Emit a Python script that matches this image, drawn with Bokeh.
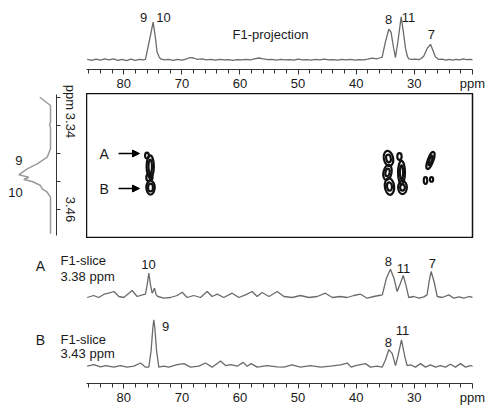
from bokeh.plotting import figure
from bokeh.layouts import column, row
from bokeh.models import Range1d, FixedTicker, Arrow, NormalHead
from bokeh.core.properties import value
from bokeh.embed import file_html
from bokeh.resources import INLINE

FONT = "Liberation Sans"

# ---------------- data ----------------
# F1 projection (13C ppm, intensity)
top_ppm = [86.3, 85.5, 84.8, 84.0, 83.3, 82.5, 81.8, 81.0, 80.3, 79.5, 78.8, 78.0, 77.3, 76.6, 76.27,
           75.6, 74.95, 74.6, 74.26, 73.9, 73.68, 73.0, 72.3, 71.5, 70.8, 70.0, 69.3, 68.6, 68.0, 67.3,
           66.5, 65.8, 65.0, 64.2, 63.5, 62.7, 62.0, 61.2, 60.5, 59.7, 59.0, 58.2, 57.5, 56.8, 56.0,
           55.2, 54.5, 53.7, 53.0, 52.2, 51.5, 50.7, 50.0, 49.2, 48.5, 47.7, 47.0, 46.2, 45.5, 44.7,
           44.0, 43.2, 42.5, 41.7, 41.0, 40.2, 39.5, 38.7, 38.0, 37.2, 36.5, 36.0, 35.53, 35.0, 34.38,
           34.0, 33.6, 33.24, 32.8, 32.26, 31.9, 31.51, 31.2, 30.94, 30.4, 29.8, 29.2, 28.8, 28.36, 27.79,
           27.5, 27.21, 26.8, 26.35, 25.78, 25.2, 24.6, 24.0, 23.4, 22.8, 22.2, 21.6, 21.0, 20.4, 19.9]
top_int = [0.5, -0.5, 0.8, -0.3, 1.0, 0.0, 1.2, -0.5, 0.6, -0.8, 0.8, -0.5, 0.5, 0.0, 0.5,
           20, 39.5, 25, 8, 3, 1.0, 0.0, 0.5, -0.5, 0.6, -0.3, 0.8, 2.5, 2.0, 0.5,
           1.0, 0.0, 0.5, -0.3, 0.6, 0.0, 0.4, -0.4, 0.3, 0.0, 0.6, 0.0, 1.0, 2.0, 1.0,
           0.2, 0.6, -0.2, 0.5, 0.0, 0.4, -0.3, 0.8, 0.0, 0.4, -0.2, 0.5, 0.0, 0.8, 0.0,
           0.4, -0.3, 0.6, 0.0, 0.5, -0.2, 0.4, 0.0, 0.8, 1.8, 1.0, 2.0, 3.0, 18, 32,
           29, 14, 2.5, 20, 45, 30, 12, 4, 1.0, 0.5, 0.8, 0.3, 1.5, 4, 12,
           14, 16.3, 10, 3, 0.5, 0.8, -0.3, 0.6, -0.2, 0.5, 0.0, 1.0, 0.2, 0.6, 0.3]

# F1 slice A (3.38 ppm)
sa_ppm = [86.3, 85.2, 84.3, 83.4, 82.6, 81.7, 80.85, 80.0, 78.55, 77.7, 76.8, 76.27, 75.98, 75.69, 75.4,
          75.12, 74.72, 74.43, 74.14, 73.1, 71.96, 70.8, 69.95, 69.1, 67.95, 66.8, 65.65, 64.8, 63.9, 62.8,
          61.35, 60.2, 59.05, 57.9, 57.05, 56.2, 55.0, 53.6, 52.45, 51.0, 49.6, 48.15, 46.7, 45.3, 44.1,
          42.7, 41.55, 40.4, 39.25, 38.1, 36.95, 36.1, 35.5, 34.8, 34.1, 33.5, 32.95, 32.5, 31.9, 31.45,
          30.95, 30.1, 29.2, 28.35, 27.8, 27.45, 27.1, 26.6, 26.05, 25.2, 24.05, 23.2, 22.3, 21.45, 20.6, 19.75]
sa_int = [0, 2, 0, 3.3, 4.3, 6, 1, 0, 7, 1, 2.6, 3.3, 12.6, 24.3, 12.6,
          4.3, 9.3, 2.6, 1, -0.7, 0, 2, 5.3, 0, 2, 0, 6, 1, 3.3, 0,
          4.3, 0, 2.6, 6, 1, 5, 1, 6, 1, 0, 2, 0, 1, 4.3, 0,
          1, 0, 2, 3.3, -0.7, 1, 2, 2.6, 19.3, 28.3, 19.3, 6, 12.6, 22, 12.6,
          0, 1, -0.7, 0.6, 2.6, 16, 26, 16, 1, 0, 2.6, -0.7, 0.6, -0.7, 1, 0]

# F1 slice B (3.43 ppm)
sb_ppm = [86.3, 85.16, 84.01, 83.15, 81.71, 80.57, 79.42, 78.27, 77.12, 76.26, 75.69, 75.29, 75.0, 74.83, 74.66,
          74.37, 73.97, 73.11, 72.25, 70.81, 69.66, 68.52, 67.08, 65.94, 64.79, 63.35, 62.49, 61.63, 60.48, 59.45,
          58.76, 58.08, 57.04, 55.32, 53.6, 52.45, 51.02, 49.58, 47.86, 46.14, 44.42, 42.7, 41.55, 40.86, 40.12,
          39.26, 38.4, 37.54, 36.39, 35.53, 34.95, 34.38, 33.81, 33.23, 32.83, 32.2, 31.63, 31.23, 30.65, 29.79,
          28.93, 28.07, 27.21, 26.35, 25.49, 24.63, 23.77, 22.91, 22.05, 21.18, 20.32, 19.75]
sb_int = [1, 2.7, 0.3, 1.7, 0, 1.7, 0, 1, 4.3, 0, 0, 17.7, 41, 49.3, 41,
          17.7, 0, 1, 0, 2.7, 3.7, 0, 1, 4.3, 0, 6.3, 1.7, 2.7, 1, 5,
          1, 3.7, 0, 1.7, 0.3, 0, 2.3, 0, 1.7, 0, 1, 2.3, 4.3, 0, 1.7,
          2.7, 3.7, 0, 1, 0, 7.7, 18.3, 14.3, 1.7, 11, 28.3, 11, 1.7, 2.3, 0,
          3.7, 0, 2.3, 0, 1.7, 0, 3, 0, 3.7, 0, 1.7, 0.3]

# F2 (1H) projection on the left
lp_h = [3.2996, 3.3114, 3.3353, 3.339, 3.3424, 3.3733, 3.3853, 3.3947, 3.4019, 3.4104,
        3.4139, 3.4171, 3.42, 3.4257, 3.4304, 3.4353, 3.4424, 3.4947]
lp_int = [10.7, 0, 0, 1, 0, 0, 3.3, 13.3, 23.3, 31.7, 21.7, 26.7, 18.3, 10, 8.3, 3.3, 0, 0]

# 2D cross-peak contours (13C ppm, 1H ppm, widths, tilt)
cp_c = [76.01, 75.45, 75.40, 75.75, 75.45, 75.40, 75.30,
        34.44, 34.61, 34.27, 34.44, 34.61, 34.27,
        32.55, 32.2, 32.03, 32.2, 32.03,
        27.21, 27.21, 28.07, 27.03]
cp_h = [3.3829, 3.3986, 3.4286, 3.4143, 3.3986, 3.4286, 3.4140,
        3.3871, 3.4071, 3.4271, 3.3871, 3.4071, 3.4271,
        3.3843, 3.4071, 3.4286, 3.4071, 3.4286,
        3.39, 3.39, 3.4186, 3.4171]
cp_w = [0.65, 1.25, 1.45, 0.75, 0.6, 0.85, 0.5,
        1.6, 1.4, 1.6, 0.8, 0.7, 0.85,
        0.75, 1.2, 1.5, 0.55, 0.8,
        0.95, 0.45, 0.6, 0.55]
cp_hh = [0.0085, 0.032, 0.02, 0.01, 0.02, 0.011, 0.008,
         0.022, 0.022, 0.024, 0.011, 0.011, 0.012,
         0.0095, 0.033, 0.019, 0.02, 0.009,
         0.026, 0.014, 0.0095, 0.0065]
cp_angle = [0, 0, 0, 0, 0, 0, 0,
            0.2, -0.2, 0.1, 0.2, -0.2, 0.1,
            0, 0, 0, 0, 0,
            -0.35, -0.35, 0, 0]

slice_names = ["A", "B"]
slice_h = [3.38, 3.43]

top_lab = ["9", "10", "8", "11", "7"]
top_lab_c = [76.61, 73.17, 34.44, 31.0, 27.04]
top_lab_i = [44, 44, 42, 44, 27]
sa_lab = ["10", "8", "11", "7"]
sa_lab_c = [75.75, 34.44, 31.86, 26.87]
sa_lab_i = [33, 36, 29, 34]
sb_lab = ["9", "8", "11"]
sb_lab_c = [72.82, 34.44, 32.03]
sb_lab_i = [42, 26, 38]
lp_lab = ["9", "10"]
lp_lab_h = [3.39, 3.4353]
lp_lab_i = [31.7, 35]

major = [20, 30, 40, 50, 60, 70, 80]
minor = list(range(22, 88, 2))

TRACE = "#6b6b6b"
TXT = "#1a1a1a"
X_FULL = (101.22, 19.98)    # spectra spanning the full width
X_RIGHT = (86.42, 19.98)    # panels to the right of the 1H strip


def base(width, height, xr, yr, **kw):
    p = figure(width=width, height=height, x_range=Range1d(*xr), y_range=Range1d(*yr),
               output_backend="svg", toolbar_location=None, min_border_left=0, min_border_top=0,
               min_border_bottom=0, min_border_right=0, **kw)
    p.grid.visible = False
    p.outline_line_color = None
    p.background_fill_color = "white"
    p.border_fill_color = "white"
    return p


def style_ppm_axis(p):
    ax = p.xaxis[0]
    ax.ticker = FixedTicker(ticks=major, minor_ticks=minor)
    ax.bounds = (19.98, 86.4)
    ax.major_label_overrides = {20: "ppm"}
    ax.axis_line_color = "#333333"
    ax.major_tick_line_color = "#333333"
    ax.minor_tick_line_color = "#333333"
    ax.major_tick_in = 0
    ax.major_tick_out = 5
    ax.minor_tick_in = 0
    ax.minor_tick_out = 4
    ax.major_label_standoff = 1
    ax.major_label_text_font = FONT
    ax.major_label_text_font_size = "13px"
    ax.major_label_text_color = TXT


def labels(p, xs, ys, texts, size="13px", align="center"):
    p.text(x=xs, y=ys, text=texts, text_font=value(FONT), text_font_size=size,
           text_align=align, text_baseline="middle", text_color=TXT)


# ---------------- top projection ----------------
p_top = base(405, 93, X_RIGHT, (-10, 62), y_axis_location=None)
p_top.min_border_right = 19
p_top.min_border_bottom = 21
style_ppm_axis(p_top)
p_top.line(top_ppm, top_int, line_color=TRACE, line_width=1.3)
labels(p_top, top_lab_c, top_lab_i, top_lab)
labels(p_top, [54.75], [27], ["F1-projection"])

# ---------------- left 1H projection with axis ----------------
p_left = base(86, 238, (50, -6), (3.5014, 3.1614), x_axis_location=None, y_axis_location="right")
p_left.min_border_right = 30
ya = p_left.yaxis[0]
ya.ticker = FixedTicker(ticks=[3.30, 3.34, 3.38, 3.42, 3.46])
ya.major_label_overrides = {3.30: "ppm", 3.34: "3.34", 3.38: "", 3.42: "", 3.46: "3.46"}
ya.bounds = (3.2957, 3.497)
ya.major_label_orientation = "vertical"
ya.axis_line_color = "#333333"
ya.major_tick_line_color = "#333333"
ya.major_tick_in = 0
ya.major_tick_out = 4
ya.minor_tick_line_color = None
ya.major_label_standoff = 2
ya.major_label_text_font = FONT
ya.major_label_text_font_size = "13px"
ya.major_label_text_color = TXT
p_left.line(lp_int, lp_h, line_color="#9a9a9a", line_width=1.5)
labels(p_left, lp_lab_i, lp_lab_h, lp_lab)

# ---------------- 2D map ----------------
p2d = base(405, 145, X_RIGHT, (3.5014, 3.2943), x_axis_location=None, y_axis_location=None)
p2d.min_border_right = 19
p2d.outline_line_color = "#111111"
p2d.outline_line_width = 1.5
p2d.ellipse(x=cp_c, y=cp_h, width=cp_w, height=cp_hh, angle=cp_angle,
            fill_color=None, line_color="#111111", line_width=2.2)
for name, h in zip(slice_names, slice_h):
    p2d.add_layout(Arrow(end=NormalHead(size=7, fill_color="black", line_color="black"),
                         x_start=80.9, y_start=h, x_end=77.3, y_end=h,
                         line_color="black", line_width=1.6))
labels(p2d, [83.4, 83.4], slice_h, slice_names, size="14px")

# ---------------- slice A ----------------
p_a = base(491, 70, X_FULL, (-11, 59), x_axis_location=None, y_axis_location=None)
p_a.min_border_right = 19
p_a.line(sa_ppm, sa_int, line_color=TRACE, line_width=1.3)
labels(p_a, sa_lab_c, sa_lab_i, sa_lab)
labels(p_a, [94.34], [32], [slice_names[0]], size="14px")
labels(p_a, [90.89, 90.89], [37, 21], ["F1-slice", f"{slice_h[0]:.2f} ppm"], align="left")

# ---------------- slice B ----------------
p_b = base(491, 99, X_FULL, (-17, 61), y_axis_location=None)
p_b.min_border_right = 19
p_b.min_border_bottom = 21
style_ppm_axis(p_b)
p_b.line(sb_ppm, sb_int, line_color=TRACE, line_width=1.3)
labels(p_b, sb_lab_c, sb_lab_i, sb_lab)
labels(p_b, [94.34], [28], [slice_names[1]], size="14px")
labels(p_b, [90.89, 90.89], [29, 14], ["F1-slice", f"{slice_h[1]:.2f} ppm"], align="left")

layout = column(row(p_left, column(p_top, p2d)), p_a, p_b)
open("out.html", "w").write(file_html(layout, INLINE))
